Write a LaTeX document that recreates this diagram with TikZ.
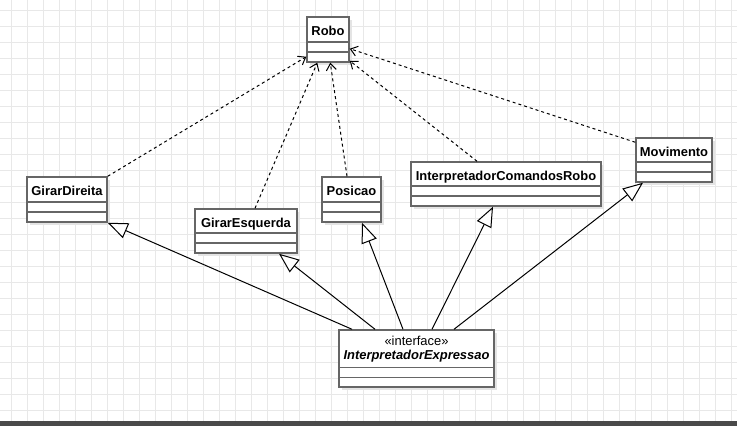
\documentclass[tikz,border=0pt]{standalone}
\usepackage{fontspec}
\setmainfont{Liberation Sans}
\usetikzlibrary{arrows.meta}
\definecolor{gridc}{RGB}{232,232,232}
\definecolor{boxc}{RGB}{102,102,102}
\definecolor{shadc}{RGB}{228,228,228}
\definecolor{barc}{RGB}{74,74,74}
\tikzset{
  clsbox/.style={draw=boxc, line width=1.1pt, fill=white, inner sep=0pt, rectangle},
  clsline/.style={draw=boxc, line width=1.1pt},
  clsname/.style={inner sep=0pt, anchor=base, font=\fontsize{9.7}{11.6}\selectfont\bfseries},
  depline/.style={draw=black, line width=0.75pt, dash pattern=on 2.25pt off 2.25pt, -{Straight Barb[length=5pt,width=7.5pt]}},
  genline/.style={draw=black, line width=0.75pt, -{Triangle[open, fill=white, length=15pt, width=12pt]}}
}
% name, x1, y1, x2, y2, label
\newcommand\umlcls[6]{%
  \fill[shadc] (#2+3,#3+3) rectangle (#4+3,#5+3);
  \node[clsbox, minimum width={(#4-#2)*0.75pt}, minimum height={(#5-#3)*0.75pt}] (#1) at ({(#2+#4)/2},{(#3+#5)/2}) {};
  \draw[clsline] (#2,#5-20) -- (#4,#5-20);
  \draw[clsline] (#2,#5-10) -- (#4,#5-10);
  \node[clsname] (#1-label) at ({(#2+#4)/2},#3+18.5) {#6};
}
\begin{document}
\begin{tikzpicture}[x=0.75pt, y=-0.75pt]
\useasboundingbox (0,0) rectangle (737,426);
\fill[white] (0,0) rectangle (737,426);
% grid
\foreach \k in {0,...,45} \draw[gridc, line width=0.75pt] (11.3+16*\k,0) -- (11.3+16*\k,421);
\foreach \k in {0,...,25} \draw[gridc, line width=0.75pt] (0,10+16*\k) -- (737,10+16*\k);
\fill[barc] (0,421) rectangle (737,426);
% classes
\umlcls{robo}{307}{17}{349}{62}{Robo}
\umlcls{gd}{27}{177}{107}{222}{GirarDireita}
\umlcls{ge}{195}{209}{297}{253}{GirarEsquerda}
\umlcls{pos}{322}{177}{381}{222}{Posicao}
\umlcls{icr}{411}{162}{601}{206}{InterpretadorComandosRobo}
\umlcls{mov}{636}{138}{712}{182}{Movimento}
% interface
\fill[shadc] (342,333) rectangle (497,390);
\node[clsbox, minimum width={155*0.75pt}, minimum height={57*0.75pt}] (ie) at (416.5,358.5) {};
\draw[clsline] (339,367.5) -- (494,367.5);
\draw[clsline] (339,377.5) -- (494,377.5);
\node[inner sep=0pt, anchor=base, font=\fontsize{9.7}{11.6}\selectfont] (ie-st) at (416.5,345.7) {«interface»};
\node[inner sep=0pt, anchor=base, font=\fontsize{9.7}{11.6}\selectfont\bfseries\itshape] (ie-name) at (416.5,359.3) {InterpretadorExpressao};
% dependencies
\draw[depline] (gd.north east) -- ([yshift=4.5pt]robo.south west);
\draw[depline] ([xshift=6.75pt]ge.north) -- ([xshift=8.25pt]robo.south west);
\draw[depline] ([xshift=-3.375pt]pos.north) -- ([xshift=18pt]robo.south west);
\draw[depline] ([xshift=-21.75pt]icr.north) -- ([yshift=1.5pt]robo.south east);
\draw[depline] ([yshift=-3.75pt]mov.north west) -- ([yshift=10.5pt]robo.south east);
% realizations
\draw[genline] ([xshift=-48.375pt]ie.north) -- (gd.south east);
\draw[genline] ([xshift=-31.125pt]ie.north) -- ([xshift=24.75pt]ge.south);
\draw[genline] ([xshift=-10.125pt]ie.north) -- ([xshift=7.875pt]pos.south);
\draw[genline] ([xshift=11.625pt]ie.north) -- ([xshift=-9.75pt]icr.south);
\draw[genline] ([xshift=28.125pt]ie.north) -- ([xshift=-23.25pt]mov.south);
\end{tikzpicture}
\end{document}
